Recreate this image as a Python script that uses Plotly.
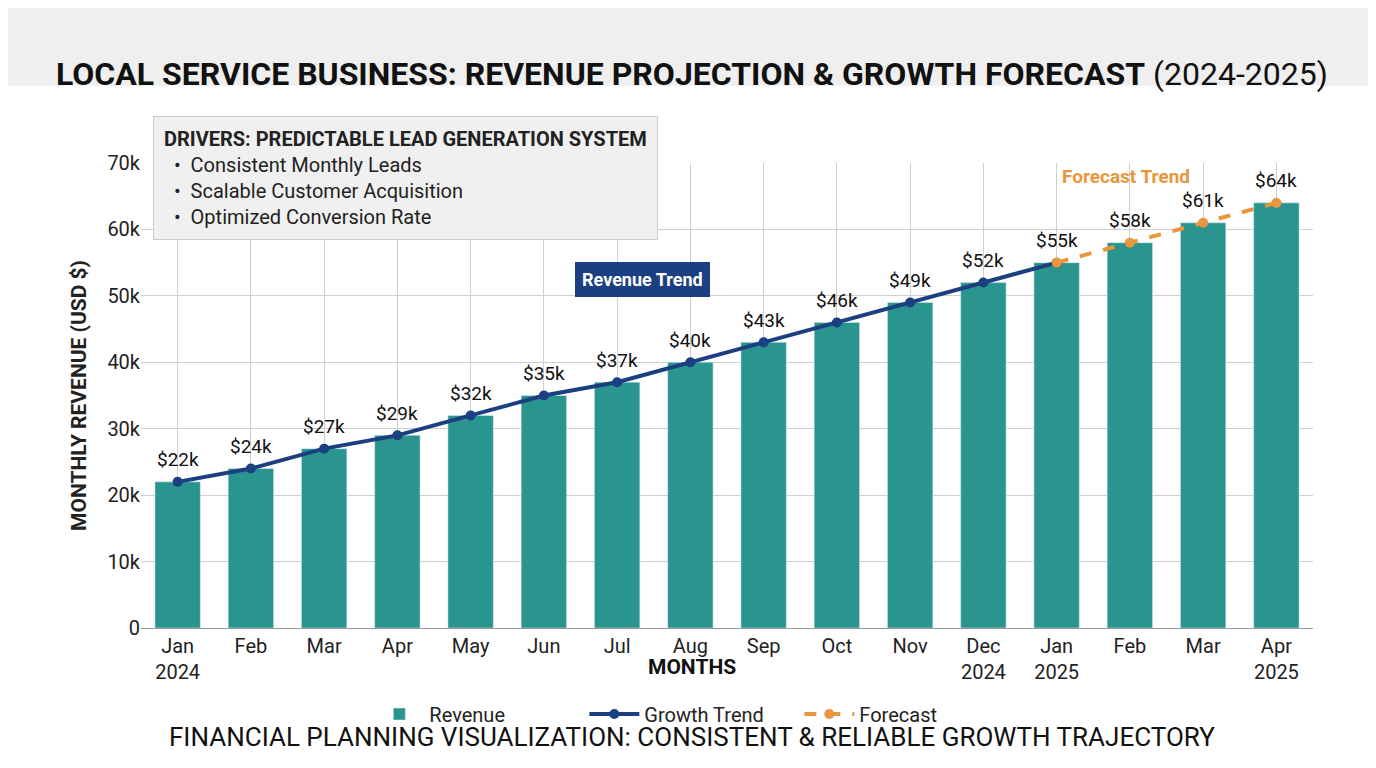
import plotly.graph_objects as go

# Monthly revenue data (USD thousands)
months = ["Jan<br>2024", "Feb", "Mar", "Apr", "May", "Jun", "Jul", "Aug", "Sep",
          "Oct", "Nov", "Dec<br>2024", "Jan<br>2025", "Feb", "Mar", "Apr<br>2025"]
revenue = [22, 24, 27, 29, 32, 35, 37, 40, 43, 46, 49, 52, 55, 58, 61, 64]
trend_idx = list(range(0, 13))
forecast_idx = list(range(12, 16))

x = list(range(len(months)))
rev = [v * 1000 for v in revenue]

teal = "#2A958F"
navy = "#1B3F80"
orange = "#E9963C"

fig = go.Figure()

fig.add_trace(go.Bar(x=x, y=rev, name="Revenue", marker_color=teal, width=0.62))

fig.add_trace(go.Scatter(
    x=trend_idx, y=[rev[i] for i in trend_idx], name="Growth Trend",
    mode="lines+markers", line=dict(color=navy, width=4),
    marker=dict(size=10, color=navy)))

fig.add_trace(go.Scatter(
    x=forecast_idx, y=[rev[i] for i in forecast_idx], name="Forecast",
    mode="lines+markers", line=dict(color=orange, width=4, dash="dash"),
    marker=dict(size=10, color=orange)))

# value labels
for i, v in enumerate(revenue):
    fig.add_annotation(x=i, y=v * 1000, text=f"${v}k", showarrow=False,
                       yshift=22, font=dict(size=19, color="#111"))

fig.add_annotation(x=6.35, y=52500, text="<b>Revenue Trend</b>", showarrow=False,
                   bgcolor=navy, font=dict(color="white", size=18),
                   borderpad=6, bordercolor=navy)
fig.add_annotation(x=12.95, y=68000, text="<b>Forecast Trend</b>", showarrow=False,
                   font=dict(color=orange, size=19))

fig.add_annotation(
    xref="paper", yref="paper", x=0.01, y=1.1, xanchor="left", yanchor="top",
    align="left", showarrow=False, bgcolor="rgba(240,240,240,0.97)",
    bordercolor="#cccccc", borderwidth=1, borderpad=10,
    text=("<b>DRIVERS: PREDICTABLE LEAD GENERATION SYSTEM</b><br>"
          "  •  Consistent Monthly Leads<br>"
          "  •  Scalable Customer Acquisition<br>"
          "  •  Optimized Conversion Rate"),
    font=dict(size=20, color="#222"))

# title band
fig.add_shape(type="rect", xref="paper", yref="paper", x0=-0.3, x1=1.3,
              y0=1.166, y1=1.45, fillcolor="#efefef", line_width=0, layer="below")
fig.add_annotation(xref="paper", yref="paper", x=0.47, y=1.237, showarrow=False,
                   text="<b>LOCAL SERVICE BUSINESS: REVENUE PROJECTION & GROWTH FORECAST</b> (2024-2025)",
                   font=dict(size=32, color="#111"))
fig.add_annotation(xref="paper", yref="paper", x=0.47, y=-0.115, showarrow=False,
                   text="<b>MONTHS</b>", font=dict(size=21, color="#111"))
fig.add_annotation(xref="paper", yref="paper", x=0.47, y=-0.27, showarrow=False,
                   text="FINANCIAL PLANNING VISUALIZATION: CONSISTENT & RELIABLE GROWTH TRAJECTORY",
                   font=dict(size=26, color="#111"))

fig.update_layout(
    width=1376, height=768, plot_bgcolor="white", paper_bgcolor="white",
    font=dict(family="Roboto, Arial, sans-serif", size=18, color="#222"),
    margin=dict(l=133, r=71, t=155, b=148),
    showlegend=True,
    legend=dict(orientation="h", x=0.47, xanchor="center", y=-0.185, yanchor="middle",
                font=dict(size=20), itemwidth=50, entrywidthmode="pixels", entrywidth=150),
    bargap=0.38,
)
fig.update_xaxes(tickvals=x, ticktext=months, range=[-0.5, 15.5],
                 showgrid=True, gridcolor="#cfcfcf", showline=True, linecolor="#999",
                 tickfont=dict(size=20))
fig.update_yaxes(range=[0, 70000], tickvals=list(range(0, 70001, 10000)),
                 ticktext=["0"] + [f"{k}k" for k in range(10, 71, 10)],
                 showgrid=True, gridcolor="#cfcfcf", tickfont=dict(size=20),
                 title=dict(text="<b>MONTHLY REVENUE (USD $)</b>", font=dict(size=21)))

fig.write_html("out.html")
